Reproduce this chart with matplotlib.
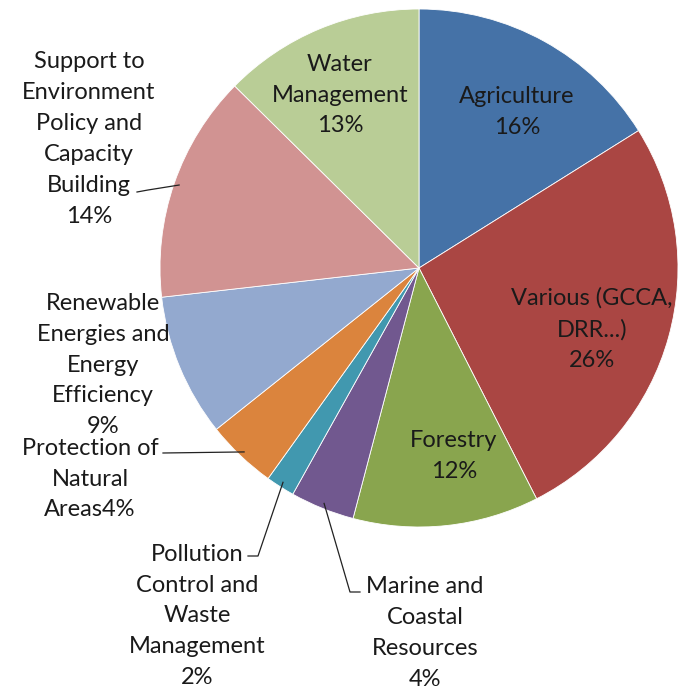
import numpy as np
import matplotlib.pyplot as plt

plt.rcParams['font.family'] = ['Lato', 'DejaVu Sans']

# slices clockwise from 12 o'clock
labels = ['Agriculture', 'Various (GCCA,\nDRR...)', 'Forestry',
          'Marine and\nCoastal\nResources', 'Pollution\nControl and\nWaste\nManagement',
          'Protection of\nNatural\nAreas', 'Renewable\nEnergies and\nEnergy\nEfficiency',
          'Support to\nEnvironment\nPolicy and\nCapacity\nBuilding', 'Water\nManagement']
shares = [16.1, 26.4, 11.6, 4.0, 1.8, 4.4, 8.9, 14.2, 12.6]
pct_text = ['16%', '26%', '12%', '4%', '2%', '4%', '9%', '14%', '13%']
colors = ['#4572A7', '#AA4643', '#89A54E', '#71588F', '#4198AF',
          '#DB843D', '#93A9CF', '#D19392', '#B9CD96']

# label centres in reference pixels (x, y of block centre)
label_px = [(517, 112), (592, 329), (454, 456), (425, 633), (197, 616),
            (90, 479), (103, 365), (89, 139), (340, 95)]
# leader line elbows (None = label sits inside the slice)
elbow_px = [None, None, None, [(350, 592), (360, 592)], [(258, 556), (248, 556)],
            [(163, 453)], None, [(148, 190), (137, 192)], None]

CX, CY, R = 419, 268, 259


def px2d(x, y):
    return (x - CX) / R, (CY - y) / R


fig = plt.figure(figsize=(6.83, 6.92), dpi=100)
ax = fig.add_axes([(CX - R) / 683, (692 - CY - R) / 692, 2 * R / 683, 2 * R / 692])
ax.pie(shares, colors=colors, startangle=90, counterclock=False, radius=1,
       wedgeprops=dict(linewidth=0.6, edgecolor='white'))
ax.set_xlim(-1, 1)
ax.set_ylim(-1, 1)
ax.set_aspect('auto')
ax.axis('off')

cum = np.cumsum([0] + shares)
for i, lab in enumerate(labels):
    if lab.startswith('Protection'):
        txt = lab + pct_text[i]
    else:
        txt = lab + '\n' + pct_text[i]
    tx, ty = px2d(*label_px[i])
    ax.text(tx, ty, txt, ha='center', va='center', fontsize=17,
            linespacing=1.58, color='#1a1a1a', clip_on=False)
    if elbow_px[i] is not None:
        mid = np.deg2rad((cum[i] + cum[i + 1]) / 2 / 100 * 360)
        xs = [np.sin(mid) * 0.98]
        ys = [np.cos(mid) * 0.98]
        for ex, ey in elbow_px[i]:
            dx, dy = px2d(ex, ey)
            xs.append(dx)
            ys.append(dy)
        ax.plot(xs, ys, color='#222222', lw=0.9, clip_on=False)

fig.savefig('out.png', dpi=100)
